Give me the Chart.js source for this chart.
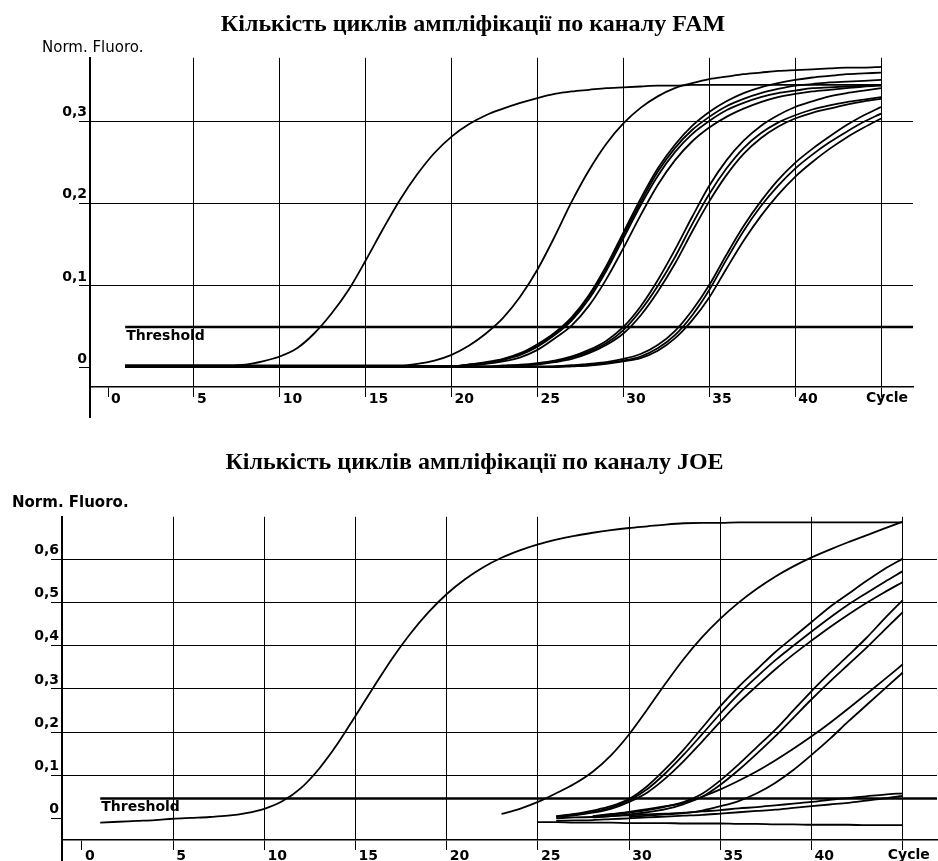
<!DOCTYPE html>
<html>
<head>
<meta charset="utf-8">
<script src="https://cdn.jsdelivr.net/npm/chart.js@4.4.0/dist/chart.umd.min.js"></script>
<style>
  body { margin: 0; background: #fff; }
  .box { position: absolute; left: 0; width: 938px; }
</style>
</head>
<body>
<div class="box" style="top:0;height:430px"><canvas id="fam" width="938" height="430"></canvas></div>
<div class="box" style="top:430px;height:431px"><canvas id="joe" width="938" height="431"></canvas></div>
<script>
// cycle numbers (x values)
const cycles = [1, 2, 3, 4, 5, 6, 7, 8, 9, 10,
  11, 12, 13, 14, 15, 16, 17, 18, 19, 20,
  21, 22, 23, 24, 25, 26, 27, 28, 29, 30,
  31, 32, 33, 34, 35, 36, 37, 38, 39, 40,
  41, 42, 43, 44, 45];

// FAM channel, normalized fluorescence per cycle
const famA = [0.003, 0.003, 0.003, 0.003, 0.003, 0.003, 0.003, 0.004, 0.008, 0.014,
  0.024, 0.042, 0.066, 0.095, 0.131, 0.169, 0.205, 0.236, 0.262, 0.282,
  0.297, 0.308, 0.316, 0.323, 0.329, 0.334, 0.337, 0.339, 0.341, 0.342,
  0.343, 0.344, 0.344, 0.345, 0.345, 0.345, 0.345, 0.345, 0.345, 0.345,
  0.345, 0.345, 0.345, 0.345, 0.345];
const famB = [0.003, 0.003, 0.003, 0.003, 0.003, 0.003, 0.003, 0.003, 0.003, 0.003,
  0.003, 0.003, 0.003, 0.003, 0.003, 0.003, 0.003, 0.005, 0.009, 0.016,
  0.027, 0.042, 0.061, 0.087, 0.120, 0.160, 0.203, 0.241, 0.273, 0.298,
  0.317, 0.331, 0.341, 0.347, 0.352, 0.355, 0.358, 0.360, 0.362, 0.363,
  0.364, 0.365, 0.366, 0.366, 0.367];
const famC1 = [0.002, 0.002, 0.002, 0.002, 0.002, 0.002, 0.002, 0.002, 0.002, 0.002,
  0.002, 0.002, 0.002, 0.002, 0.002, 0.002, 0.002, 0.002, 0.002, 0.002,
  0.004, 0.006, 0.010, 0.016, 0.026, 0.040, 0.058, 0.084, 0.118, 0.158,
  0.198, 0.234, 0.263, 0.285, 0.301, 0.314, 0.323, 0.330, 0.335, 0.338,
  0.341, 0.342, 0.343, 0.344, 0.345];
const famC2 = [0.002, 0.002, 0.002, 0.002, 0.002, 0.002, 0.002, 0.002, 0.002, 0.002,
  0.002, 0.002, 0.002, 0.002, 0.002, 0.002, 0.002, 0.002, 0.002, 0.002,
  0.004, 0.007, 0.011, 0.018, 0.029, 0.043, 0.062, 0.089, 0.124, 0.165,
  0.206, 0.243, 0.272, 0.295, 0.312, 0.325, 0.335, 0.342, 0.347, 0.351,
  0.354, 0.356, 0.358, 0.359, 0.360];
const famC3 = [0.002, 0.002, 0.002, 0.002, 0.002, 0.002, 0.002, 0.002, 0.002, 0.002,
  0.002, 0.002, 0.002, 0.002, 0.002, 0.002, 0.002, 0.002, 0.002, 0.002,
  0.003, 0.005, 0.008, 0.013, 0.022, 0.036, 0.052, 0.076, 0.108, 0.146,
  0.186, 0.223, 0.253, 0.276, 0.293, 0.306, 0.316, 0.324, 0.330, 0.334,
  0.337, 0.339, 0.341, 0.343, 0.344];
const famC4 = [0.002, 0.002, 0.002, 0.002, 0.002, 0.002, 0.002, 0.002, 0.002, 0.002,
  0.002, 0.002, 0.002, 0.002, 0.002, 0.002, 0.002, 0.002, 0.002, 0.002,
  0.004, 0.006, 0.010, 0.017, 0.027, 0.041, 0.060, 0.087, 0.121, 0.162,
  0.202, 0.239, 0.268, 0.290, 0.306, 0.319, 0.328, 0.335, 0.340, 0.344,
  0.346, 0.348, 0.349, 0.350, 0.351];
const famD1 = [0.002, 0.002, 0.002, 0.002, 0.002, 0.002, 0.002, 0.002, 0.002, 0.002,
  0.002, 0.002, 0.002, 0.002, 0.002, 0.002, 0.002, 0.002, 0.002, 0.002,
  0.002, 0.002, 0.002, 0.003, 0.005, 0.008, 0.013, 0.020, 0.030, 0.046,
  0.070, 0.100, 0.135, 0.175, 0.212, 0.243, 0.268, 0.286, 0.299, 0.308,
  0.315, 0.320, 0.324, 0.327, 0.330];
const famD2 = [0.002, 0.002, 0.002, 0.002, 0.002, 0.002, 0.002, 0.002, 0.002, 0.002,
  0.002, 0.002, 0.002, 0.002, 0.002, 0.002, 0.002, 0.002, 0.002, 0.002,
  0.002, 0.002, 0.003, 0.004, 0.006, 0.009, 0.014, 0.022, 0.033, 0.050,
  0.075, 0.107, 0.144, 0.184, 0.222, 0.253, 0.277, 0.295, 0.308, 0.318,
  0.325, 0.331, 0.335, 0.338, 0.341];
const famD3 = [0.001, 0.001, 0.001, 0.001, 0.001, 0.001, 0.001, 0.001, 0.001, 0.001,
  0.001, 0.001, 0.001, 0.001, 0.001, 0.001, 0.001, 0.001, 0.001, 0.001,
  0.001, 0.001, 0.002, 0.003, 0.004, 0.007, 0.011, 0.018, 0.028, 0.042,
  0.064, 0.093, 0.127, 0.166, 0.203, 0.235, 0.261, 0.280, 0.294, 0.304,
  0.311, 0.316, 0.321, 0.325, 0.328];
const famE1 = [0.001, 0.001, 0.001, 0.001, 0.001, 0.001, 0.001, 0.001, 0.001, 0.001,
  0.001, 0.001, 0.001, 0.001, 0.001, 0.001, 0.001, 0.001, 0.001, 0.001,
  0.001, 0.001, 0.001, 0.001, 0.001, 0.002, 0.003, 0.004, 0.006, 0.009,
  0.014, 0.024, 0.040, 0.064, 0.095, 0.132, 0.167, 0.197, 0.222, 0.243,
  0.260, 0.275, 0.288, 0.300, 0.310];
const famE2 = [0.001, 0.001, 0.001, 0.001, 0.001, 0.001, 0.001, 0.001, 0.001, 0.001,
  0.001, 0.001, 0.001, 0.001, 0.001, 0.001, 0.001, 0.001, 0.001, 0.001,
  0.001, 0.001, 0.001, 0.001, 0.002, 0.002, 0.003, 0.005, 0.007, 0.011,
  0.017, 0.028, 0.045, 0.070, 0.101, 0.138, 0.173, 0.203, 0.229, 0.250,
  0.267, 0.282, 0.296, 0.308, 0.318];
const famE3 = [0.001, 0.001, 0.001, 0.001, 0.001, 0.001, 0.001, 0.001, 0.001, 0.001,
  0.001, 0.001, 0.001, 0.001, 0.001, 0.001, 0.001, 0.001, 0.001, 0.001,
  0.001, 0.001, 0.001, 0.001, 0.001, 0.001, 0.002, 0.003, 0.005, 0.008,
  0.012, 0.021, 0.036, 0.058, 0.086, 0.121, 0.155, 0.185, 0.211, 0.233,
  0.251, 0.267, 0.281, 0.293, 0.304];
const famThreshold = 0.05;

// JOE channel
const joeA = [-0.010, -0.008, -0.006, -0.004, -0.001, 0.001, 0.003, 0.006, 0.012, 0.022,
  0.040, 0.070, 0.115, 0.172, 0.238, 0.305, 0.370, 0.428, 0.478, 0.520,
  0.554, 0.582, 0.604, 0.621, 0.635, 0.646, 0.655, 0.662, 0.668, 0.673,
  0.677, 0.681, 0.684, 0.685, 0.685, 0.686, 0.686, 0.686, 0.686, 0.686,
  0.686, 0.686, 0.686, 0.686, 0.686];
const joeB = [null, null, null, null, null, null, null, null, null, null,
  null, null, null, null, null, null, null, null, null, null,
  null, null, 0.010, 0.022, 0.038, 0.058, 0.080, 0.108, 0.146, 0.195,
  0.253, 0.313, 0.370, 0.420, 0.463, 0.500, 0.532, 0.560, 0.584, 0.605,
  0.623, 0.640, 0.656, 0.672, 0.688];
const joeC1 = [null, null, null, null, null, null, null, null, null, null,
  null, null, null, null, null, null, null, null, null, null,
  null, null, null, null, null, 0.005, 0.010, 0.018, 0.028, 0.045,
  0.075, 0.115, 0.160, 0.210, 0.260, 0.305, 0.345, 0.385, 0.420, 0.455,
  0.490, 0.520, 0.550, 0.578, 0.602];
const joeC2 = [null, null, null, null, null, null, null, null, null, null,
  null, null, null, null, null, null, null, null, null, null,
  null, null, null, null, null, 0.004, 0.008, 0.015, 0.025, 0.042,
  0.068, 0.105, 0.148, 0.195, 0.243, 0.288, 0.328, 0.366, 0.400, 0.433,
  0.465, 0.495, 0.522, 0.548, 0.573];
const joeC3 = [null, null, null, null, null, null, null, null, null, null,
  null, null, null, null, null, null, null, null, null, null,
  null, null, null, null, null, 0.003, 0.007, 0.013, 0.022, 0.038,
  0.060, 0.093, 0.133, 0.178, 0.224, 0.268, 0.307, 0.345, 0.380, 0.412,
  0.443, 0.472, 0.499, 0.524, 0.548];
const joeD1 = [null, null, null, null, null, null, null, null, null, null,
  null, null, null, null, null, null, null, null, null, null,
  null, null, null, null, null, null, null, 0.004, 0.008, 0.013,
  0.019, 0.027, 0.038, 0.057, 0.088, 0.125, 0.165, 0.205, 0.250, 0.295,
  0.337, 0.377, 0.418, 0.463, 0.506];
const joeD2 = [null, null, null, null, null, null, null, null, null, null,
  null, null, null, null, null, null, null, null, null, null,
  null, null, null, null, null, null, null, 0.002, 0.005, 0.009,
  0.014, 0.021, 0.033, 0.050, 0.078, 0.112, 0.150, 0.190, 0.233, 0.276,
  0.317, 0.356, 0.395, 0.437, 0.478];
const joeE1 = [null, null, null, null, null, null, null, null, null, null,
  null, null, null, null, null, null, null, null, null, null,
  null, null, null, null, null, null, null, 0.005, 0.010, 0.015,
  0.021, 0.028, 0.036, 0.050, 0.067, 0.087, 0.109, 0.134, 0.161, 0.190,
  0.221, 0.254, 0.288, 0.322, 0.357];
const joeE2 = [null, null, null, null, null, null, null, null, null, null,
  null, null, null, null, null, null, null, null, null, null,
  null, null, null, null, null, null, null, null, null, 0.003,
  0.006, 0.009, 0.012, 0.018, 0.028, 0.040, 0.058, 0.082, 0.112, 0.147,
  0.184, 0.224, 0.262, 0.300, 0.338];
const joeF1 = [null, null, null, null, null, null, null, null, null, null,
  null, null, null, null, null, null, null, null, null, null,
  null, null, null, null, null, 0.000, 0.002, 0.003, 0.005, 0.007,
  0.009, 0.011, 0.013, 0.016, 0.019, 0.023, 0.026, 0.030, 0.034, 0.038,
  0.043, 0.047, 0.051, 0.055, 0.058];
const joeF2 = [null, null, null, null, null, null, null, null, null, null,
  null, null, null, null, null, null, null, null, null, null,
  null, null, null, null, null, -0.006, -0.005, -0.004, -0.002, 0.000,
  0.002, 0.004, 0.006, 0.008, 0.011, 0.014, 0.017, 0.020, 0.024, 0.028,
  0.032, 0.036, 0.041, 0.046, 0.052];
const joeG = [null, null, null, null, null, null, null, null, null, null,
  null, null, null, null, null, null, null, null, null, null,
  null, null, null, null, -0.009, -0.009, -0.010, -0.010, -0.010, -0.011,
  -0.011, -0.011, -0.012, -0.012, -0.012, -0.013, -0.013, -0.014, -0.014, -0.015,
  -0.015, -0.015, -0.016, -0.016, -0.016];
const joeThreshold = 0.046;

const tickFont = { family: 'DejaVu Sans', size: 14, weight: 'bold' };

// axis extras: y axis tail, unit label, threshold caption, "Cycle"
const extrasPlugin = {
  id: 'extras',
  afterDraw(chart, args, opts) {
    const { ctx, chartArea, scales: { x, y } } = chart;
    ctx.save();
    ctx.strokeStyle = '#000';
    ctx.fillStyle = '#000';
    ctx.lineWidth = 2;
    ctx.beginPath();
    ctx.moveTo(chartArea.left, chartArea.bottom);
    ctx.lineTo(chartArea.left, chartArea.bottom + opts.axisTail);
    ctx.stroke();

    ctx.textBaseline = 'middle';
    ctx.font = opts.unitFont;
    ctx.fillText('Norm. Fluoro.', chartArea.left + opts.unitDx, chartArea.top + opts.unitDy);

    ctx.font = 'bold 14px "DejaVu Sans"';
    ctx.textBaseline = 'top';
    ctx.fillText('Threshold', x.getPixelForValue(1) + 1, y.getPixelForValue(opts.threshold) + 2);
    ctx.fillText('Cycle', x.getPixelForValue(45) - 15, chartArea.bottom + opts.cycleDy);
    ctx.restore();
  }
};

function makeChart(canvasId, title, curves, threshold, layout) {
  const datasets = curves.map(values => ({
    data: values,
    borderColor: '#000',
    borderWidth: 1.8,
    pointRadius: 0,
    cubicInterpolationMode: 'monotone',
    fill: false
  }));
  datasets.push({
    data: [{ x: 1, y: threshold }, { x: 48, y: threshold }],
    borderColor: '#000',
    borderWidth: 2.5,
    pointRadius: 0
  });

  return new Chart(document.getElementById(canvasId), {
    type: 'line',
    data: { labels: cycles, datasets: datasets },
    plugins: [extrasPlugin],
    options: {
      responsive: false,
      animation: false,
      layout: { padding: { left: layout.padLeft, right: layout.padRight, top: 0, bottom: 0 } },
      plugins: {
        legend: { display: false },
        tooltip: { enabled: false },
        title: {
          display: true,
          text: title,
          color: '#000',
          font: { family: 'Liberation Serif', size: 24, weight: 'bold' },
          padding: { top: layout.titleTop, bottom: layout.titleBottom }
        },
        extras: {
          threshold: threshold,
          axisTail: layout.axisTail,
          unitFont: layout.unitFont,
          unitDx: layout.unitDx,
          unitDy: layout.unitDy,
          cycleDy: layout.cycleDy
        }
      },
      scales: {
        x: {
          type: 'linear',
          min: layout.xMin,
          max: layout.xMax,
          afterFit: s => { s.height = layout.xHeight; },
          border: { color: '#000', width: 1.5 },
          grid: {
            color: c => (c.tick.value === 0 ? 'rgba(0,0,0,0)' : '#000'),
            tickColor: '#000',
            tickLength: 10,
            lineWidth: 1
          },
          ticks: {
            stepSize: 5,
            includeBounds: false,
            autoSkip: false,
            maxRotation: 0,
            align: 'start',
            labelOffset: 3,
            padding: layout.xPad,
            color: '#000',
            font: tickFont,
            callback: v => (v === 45 ? '' : String(v))
          }
        },
        y: {
          min: layout.yMin,
          max: layout.yMax,
          afterFit: s => { s.width = layout.yWidth; },
          border: { color: '#000', width: 2 },
          grid: {
            color: c => (Math.abs(c.tick.value) < 1e-9 ? 'rgba(0,0,0,0)' : '#000'),
            tickColor: '#000',
            tickLength: 11,
            lineWidth: 1
          },
          ticks: {
            stepSize: 0.1,
            includeBounds: false,
            labelOffset: -9,
            padding: -8,
            color: '#000',
            font: tickFont,
            callback: v => (Math.abs(v) < 1e-9 ? '0' : v.toFixed(1).replace('.', ','))
          }
        }
      }
    }
  });
}

makeChart('fam', 'Кількість циклів ампліфікації по каналу FAM',
  [famA, famB, famC1, famC2, famC3, famC4, famD1, famD2, famD3, famE1, famE2, famE3],
  famThreshold,
  { padLeft: 33, padRight: 25, yWidth: 57, xHeight: 43, titleTop: 10, titleBottom: 19,
    xMin: -1.048, xMax: 46.86, yMin: -0.0232, yMax: 0.378, xPad: -6,
    axisTail: 31, unitFont: '15px "DejaVu Sans"', unitDx: -48, unitDy: -10, cycleDy: 4 });

makeChart('joe', 'Кількість циклів ампліфікації по каналу JOE',
  [joeA, joeB, joeC1, joeC2, joeC3, joeD1, joeD2, joeE1, joeE2, joeF1, joeF2, joeG],
  joeThreshold,
  { padLeft: 12, padRight: 1, yWidth: 50, xHeight: 21, titleTop: 18, titleBottom: 40,
    xMin: -1.096, xMax: 46.875, yMin: -0.0503, yMax: 0.699, xPad: -2,
    axisTail: 21, unitFont: 'bold 15px "DejaVu Sans"', unitDx: -50, unitDy: -14, cycleDy: 8 });
</script>
</body>
</html>
